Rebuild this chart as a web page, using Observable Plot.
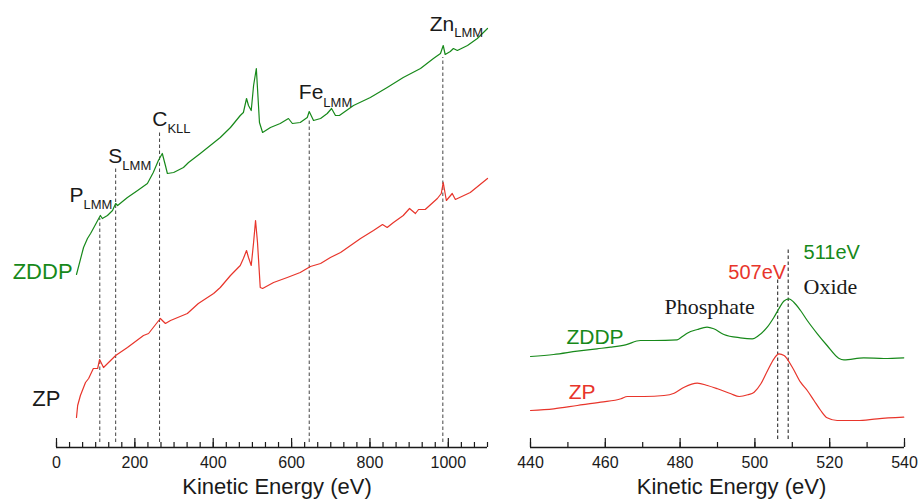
<!DOCTYPE html>
<html><head><meta charset="utf-8">
<script src="https://cdn.jsdelivr.net/npm/d3@7"></script>
<script src="https://cdn.jsdelivr.net/npm/@observablehq/plot@0.6"></script>
<style>
body{margin:0;background:#fff;}
#wrap{position:relative;width:918px;height:504px;}
#left,#right{position:absolute;top:0;}
#left{left:0;} #right{left:500px;}
</style></head><body><div id="wrap"><div id="left"></div><div id="right"></div></div>
<script>
// ---- Survey spectra (left panel), intensity in arbitrary units ----
const zddpSurveyE = [51,69,79,87,94,105,112,117,130,143,151,156,181,207,232,247,260,270,278,283,299,324,337,367,418,444,469,477,485,490,497,503,510,513,518,526,546,571,592,602,622,640,645,656,674,691,702,712,722,758,801,844,885,929,962,980,987,992,1005,1013,1023,1049,1074,1100];
const zddpSurveyI = [173,200,209,214,219,227,232,229,232,237,244,242,250,257,264,275,287,294,282,274,275,280,285,294,310,320,332,335,349,342,337,362,379,359,325,315,320,324,329,324,325,330,336,327,329,334,339,332,332,342,350,360,370,379,389,394,402,393,396,399,397,402,409,419];
const zpSurveyE = [51,54,61,74,82,94,105,110,120,151,181,222,235,265,278,291,334,362,401,418,444,469,477,485,490,497,503,508,513,520,526,554,589,622,648,674,699,725,776,809,832,844,860,885,901,916,924,941,972,982,987,995,1010,1018,1056,1100];
const zpSurveyI = [30,42,52,65,69,79,79,88,80,92,100,112,114,129,124,127,134,144,154,160,172,182,189,197,190,182,205,227,205,160,159,165,170,175,181,184,190,195,209,217,223,220,225,232,239,234,238,238,249,254,265,247,254,248,255,269];

// Peak markers (left)
const peakNames = ["P","S","C","Fe","Zn"];
const peakSubs = ["LMM","LMM","KLL","LMM","LMM"];
const peakEnergies = [110.5,151,263,645,986];
const peakLineTops = [229,280,315,327,390];
const peakLabelE = [69,168,283,681,1015];
const peakLabelI = [246,285,322,349,417];
const peakSubI = [239,278,315,341,411];

// Tick labels
const surveyTicks = [0,200,400,600,800,1000];
const zoomTicks = [440,460,480,500,520,540];

// ---- Zoomed O KLL region (right panel) ----
const zddpZoomE = [440.0,446.2,452.5,457.8,461.4,465.4,469.4,473.0,479.2,480.6,481.9,484.6,487.2,489.0,491.7,496.1,499.3,501.0,503.3,505.1,506.4,507.7,509.1,510.4,512.2,514.0,516.7,519.3,522.4,523.8,529.1,534.5,539.8];
const zddpZoomI = [91,93,96.3,98.7,100.3,102.7,107,107,107.7,111,114.3,118,120.3,118.7,113,109.7,108.7,112,120.3,130.3,138.7,146.3,148.7,145.3,137,127,113.7,102,89.3,87.7,89.7,89,89.7];
const zpZoomE = [440.0,446.2,452.5,458.8,464.2,465.9,470.4,475.7,478.4,481.1,484.6,487.3,490.0,493.6,495.8,498.1,499.8,501.6,503.4,505.1,506.4,507.8,510.0,512.2,514.0,515.8,517.6,519.3,522.0,527.4,532.7,539.8];
const zpZoomI = [37,38.7,42,45.3,48.7,51,51,52,54.3,60.3,64.3,62,58.7,53.7,51,52.7,55.3,63.7,77,88.7,93.7,92,80.3,65.3,57,47,37,29.7,27,27,28.7,30.3];
const zoomLineE = [506.1,508.9];
const zoomLineTops = [170,200];

const GREEN = "#17891a", RED = "#e8352b", INK = "#1a1a1a";
const SANS = "'Liberation Sans', Arial, sans-serif";
const SERIF = "'Liberation Serif', 'Times New Roman', serif";

const zip = (E, I) => E.map((e, i) => ({e, i: I[i]}));
const zddpSurvey = zip(zddpSurveyE, zddpSurveyI);
const zpSurvey = zip(zpSurveyE, zpSurveyI);
const zddpZoom = zip(zddpZoomE, zddpZoomI);
const zpZoom = zip(zpZoomE, zpZoomI);
const peaks = peakNames.map((n, k) => ({n, s: peakSubs[k], e: peakEnergies[k], top: peakLineTops[k], le: peakLabelE[k], li: peakLabelI[k], si: peakSubI[k]}));

const surveyMinor = d3.range(0, 34).map(k => k * 100 / 3);
const zoomMinor = d3.range(440, 541, 10);

function axisMarks(minor, major) {
  return [
    Plot.ruleY([0], {stroke: INK, strokeWidth: 1.5}),
    Plot.ruleX(minor, {x: d => d, y1: 0, y2: 5, stroke: INK, strokeWidth: 1.2}),
    Plot.ruleX(major, {x: d => d, y1: 0, y2: 9, stroke: INK, strokeWidth: 1.2}),
    Plot.axisX({ticks: major, tickSize: 0, tickPadding: 9, fontSize: 16, label: null, fill: INK, tickFormat: d => String(d)})
  ];
}

const left = Plot.plot({
  width: 510, height: 504,
  marginLeft: 56, marginRight: 23, marginTop: 0, marginBottom: 57,
  x: {domain: [0, 1100]},
  y: {domain: [0, 447], axis: null},
  style: {fontFamily: SANS, background: "transparent", overflow: "visible"},
  marks: [
    ...axisMarks(surveyMinor, surveyTicks),
    Plot.ruleX(peaks, {x: "e", y1: 5, y2: "top", stroke: "#444", strokeWidth: 1, strokeDasharray: "3.5,2.5"}),
    Plot.line(zddpSurvey, {x: "e", y: "i", stroke: GREEN, strokeWidth: 1.2}),
    Plot.line(zpSurvey, {x: "e", y: "i", stroke: RED, strokeWidth: 1.2}),
    Plot.text(peaks, {x: "le", y: "li", text: "n", textAnchor: "end", lineAnchor: "bottom", fontSize: 21, fill: INK}),
    Plot.text(peaks, {x: "le", y: "si", text: "s", textAnchor: "start", lineAnchor: "bottom", fontSize: 13, fill: INK}),
    Plot.text(["ZDDP"], {x: 41, y: 169, text: d => d, textAnchor: "end", lineAnchor: "bottom", fontSize: 22, fill: GREEN}),
    Plot.text(["ZP"], {x: 10, y: 42, text: d => d, textAnchor: "end", lineAnchor: "bottom", fontSize: 22, fill: INK}),
    Plot.text(["Kinetic Energy (eV)"], {text: d => d, frameAnchor: "bottom", dy: 46, dx: 5, fontSize: 22, fill: INK})
  ]
});

const right = Plot.plot({
  width: 418, height: 504,
  marginLeft: 30, marginRight: 14, marginTop: 0, marginBottom: 57,
  x: {domain: [440, 540]},
  y: {domain: [0, 447], axis: null},
  style: {fontFamily: SANS, background: "transparent", overflow: "visible"},
  marks: [
    ...axisMarks(zoomMinor, zoomTicks),
    Plot.ruleX(zoomLineE, {x: d => d, y1: 8, y2: (d, k) => zoomLineTops[k], stroke: INK, strokeWidth: 1, strokeDasharray: "3.5,2.5"}),
    Plot.line(zddpZoom, {x: "e", y: "i", stroke: GREEN, strokeWidth: 1.2, curve: "monotone-x"}),
    Plot.line(zpZoom, {x: "e", y: "i", stroke: RED, strokeWidth: 1.2, curve: "monotone-x"}),
    Plot.text(["511eV"], {x: 513, y: 189, text: d => d, textAnchor: "start", lineAnchor: "bottom", fontSize: 20, fill: GREEN}),
    Plot.text(["507eV"], {x: 492.9, y: 169, text: d => d, textAnchor: "start", lineAnchor: "bottom", fontSize: 20, fill: RED}),
    Plot.text(["Oxide"], {x: 513, y: 154, text: d => d, textAnchor: "start", lineAnchor: "bottom", fontSize: 22, fontFamily: SERIF, fill: INK}),
    Plot.text(["Phosphate"], {x: 475.8, y: 134, text: d => d, textAnchor: "start", lineAnchor: "bottom", fontSize: 22, fontFamily: SERIF, fill: INK}),
    Plot.text(["ZDDP"], {x: 449.6, y: 104, text: d => d, textAnchor: "start", lineAnchor: "bottom", fontSize: 21, fill: GREEN}),
    Plot.text(["ZP"], {x: 450.2, y: 49, text: d => d, textAnchor: "start", lineAnchor: "bottom", fontSize: 21, fill: RED}),
    Plot.text(["Kinetic Energy (eV)"], {text: d => d, frameAnchor: "bottom", dy: 46, dx: 14, fontSize: 22, fill: INK})
  ]
});

document.getElementById("left").appendChild(left);
document.getElementById("right").appendChild(right);
</script>
</body></html>
